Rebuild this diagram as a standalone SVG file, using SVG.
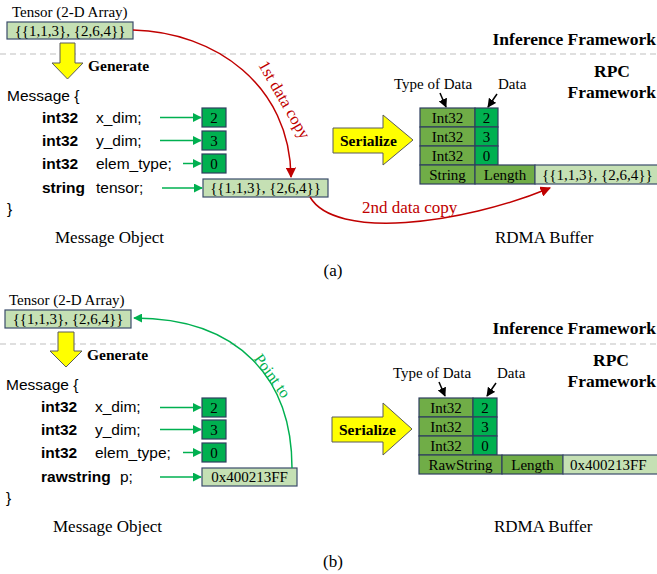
<svg xmlns="http://www.w3.org/2000/svg" width="657" height="574" viewBox="0 0 657 574">
<style>
.serif{font-family:"Liberation Serif","Times New Roman",serif;fill:#000}
.sans{font-family:"Liberation Sans",Arial,sans-serif;font-size:15.5px;fill:#000}
.b{font-weight:bold}
.lt{fill:#c5e0b4;stroke:#3b4c6b;stroke-width:1.2}
.md{fill:#70ad47;stroke:#2f3f5f;stroke-width:1.2}
.dk{fill:#00b050;stroke:#2f3f5f;stroke-width:1.2}
.yl{fill:#ffff00;stroke:#5a5a5a;stroke-width:1}
.dash{stroke:#c0c0c0;stroke-width:1.2;stroke-dasharray:6 4;fill:none}
.ga{stroke:#00b050;stroke-width:1.5;fill:none;marker-end:url(#mg)}
.ra{stroke:#c00000;stroke-width:1.5;fill:none;marker-end:url(#mr)}
.ka{stroke:#000;stroke-width:1.5;fill:none;marker-end:url(#mk)}
.c{text-anchor:middle}
</style>
<defs>
<marker id="mg" viewBox="0 0 10 10" refX="9" refY="5" markerWidth="6" markerHeight="6" orient="auto" markerUnits="strokeWidth"><path d="M0,0 L10,5 L0,10 z" fill="#00b050"/></marker>
<marker id="mr" viewBox="0 0 10 10" refX="9" refY="5" markerWidth="7" markerHeight="7" orient="auto" markerUnits="strokeWidth"><path d="M0,0 L10,5 L0,10 z" fill="#c00000"/></marker>
<marker id="mk" viewBox="0 0 10 10" refX="9" refY="5" markerWidth="6" markerHeight="6" orient="auto" markerUnits="strokeWidth"><path d="M0,0 L10,5 L0,10 z" fill="#000"/></marker>
</defs>

<!-- ============ (a) ============ -->
<g id="a-tensor">
<text class="serif" x="12" y="17" font-size="15">Tensor (2-D Array)</text>
<rect class="lt" x="7" y="22" width="126" height="17"/>
<text class="serif c" x="70" y="36" font-size="15">{{1,1,3}, {2,6,4}}</text>
</g>
<line class="dash" x1="0" y1="54" x2="657" y2="54"/>
<g id="a-generate">
<polygon class="yl" points="60,43 75,43 75,63 83,63 67.5,79 52,63 60,63"/>
<text class="serif b" x="88" y="71" font-size="15.5">Generate</text>
</g>
<g id="a-message">
<text class="sans" x="7" y="101">Message {</text>
<text class="sans b" x="42" y="123">int32</text><text class="sans" x="96" y="123">x_dim;</text>
<text class="sans b" x="42" y="146">int32</text><text class="sans" x="96" y="146">y_dim;</text>
<text class="sans b" x="42" y="169">int32</text><text class="sans" x="96" y="169">elem_type;</text>
<text class="sans b" x="42" y="193">string</text><text class="sans" x="96" y="193">tensor;</text>
<text class="sans" x="7" y="214">}</text>
<text class="serif" x="55" y="243" font-size="17">Message Object</text>
</g>
<g id="a-values">
<rect class="dk" x="202" y="108" width="24" height="19"/><text class="serif c" x="214" y="123" font-size="15">2</text>
<rect class="dk" x="202" y="131" width="24" height="19"/><text class="serif c" x="214" y="146" font-size="15">3</text>
<rect class="dk" x="202" y="154" width="24" height="19"/><text class="serif c" x="214" y="169" font-size="15">0</text>
<rect class="lt" x="203" y="179" width="125" height="18"/><text class="serif c" x="265.5" y="193" font-size="15">{{1,1,3}, {2,6,4}}</text>
</g>
<g id="a-labels">
<text class="serif b" x="656" y="45" font-size="17.5" text-anchor="end">Inference Framework</text>
<text class="serif b c" x="612" y="77" font-size="17.5">RPC</text>
<text class="serif b" x="656" y="98" font-size="17.5" text-anchor="end">Framework</text>
<text class="serif" x="394" y="89" font-size="15">Type of Data</text>
<text class="serif" x="498" y="89" font-size="15">Data</text>
<text class="serif" x="495" y="243" font-size="17">RDMA Buffer</text>
<text class="serif c" x="333" y="276" font-size="17">(a)</text>
</g>
<g id="a-serialize">
<polygon class="yl" points="333,128 383,128 383,115 413,140 383,165 383,153 333,153"/>
<text class="serif b" x="340" y="146" font-size="15.5">Serialize</text>
</g>
<g id="a-buffer">
<rect class="md" x="420" y="108" width="55" height="19"/><text class="serif c" x="447.5" y="123" font-size="15">Int32</text>
<rect class="dk" x="475" y="108" width="23" height="19"/><text class="serif c" x="486.5" y="123" font-size="15">2</text>
<rect class="md" x="420" y="127" width="55" height="19"/><text class="serif c" x="447.5" y="142" font-size="15">Int32</text>
<rect class="dk" x="475" y="127" width="23" height="19"/><text class="serif c" x="486.5" y="142" font-size="15">3</text>
<rect class="md" x="420" y="146" width="55" height="19"/><text class="serif c" x="447.5" y="161" font-size="15">Int32</text>
<rect class="dk" x="475" y="146" width="23" height="19"/><text class="serif c" x="486.5" y="161" font-size="15">0</text>
<rect class="md" x="420" y="165" width="55" height="19"/><text class="serif c" x="447.5" y="180" font-size="15">String</text>
<rect class="md" x="475" y="165" width="60" height="19"/><text class="serif c" x="505" y="180" font-size="15">Length</text>
<rect class="lt" x="535" y="165" width="124" height="19"/><text class="serif" x="542" y="180" font-size="15">{{1,1,3}, {2,6,4}}</text>
</g>
<g id="a-connectors">
<line class="ga" x1="160" y1="117.5" x2="201" y2="117.5"/>
<line class="ga" x1="160" y1="140.5" x2="201" y2="140.5"/>
<line class="ga" x1="183" y1="163.5" x2="201" y2="163.5"/>
<line class="ga" x1="162" y1="188" x2="202" y2="188"/>
<path class="ra" d="M133,30 C215,32 290,85 291,177"/>
<path class="ra" d="M310,197 C335,240 460,225 550,188"/>
<line class="ka" x1="440" y1="93" x2="446" y2="107"/>
<line class="ka" x1="497" y1="94" x2="488" y2="107"/>
<text class="serif" transform="translate(284,100) rotate(60)" text-anchor="middle" dy="5" font-size="16.5" style="fill:#c00000">1st data copy</text>
<text class="serif" x="362" y="213" font-size="17" style="fill:#c00000">2nd data copy</text>
</g>

<!-- ============ (b) ============ -->
<g id="b-tensor">
<text class="serif" x="9" y="305" font-size="15">Tensor (2-D Array)</text>
<rect class="lt" x="5" y="310" width="126" height="18"/>
<text class="serif c" x="68" y="324" font-size="15">{{1,1,3}, {2,6,4}}</text>
</g>
<line class="dash" x1="0" y1="344" x2="657" y2="344"/>
<g id="b-generate">
<polygon class="yl" points="58,332 74,332 74,351 82,351 66,367 50,351 58,351"/>
<text class="serif b" x="87" y="360" font-size="15.5">Generate</text>
</g>
<g id="b-message">
<text class="sans" x="6" y="390">Message {</text>
<text class="sans b" x="41" y="412">int32</text><text class="sans" x="95" y="412">x_dim;</text>
<text class="sans b" x="41" y="435">int32</text><text class="sans" x="95" y="435">y_dim;</text>
<text class="sans b" x="41" y="458">int32</text><text class="sans" x="95" y="458">elem_type;</text>
<text class="sans b" x="41" y="482">rawstring</text><text class="sans" x="120" y="482">p;</text>
<text class="sans" x="6" y="503">}</text>
<text class="serif" x="53" y="532" font-size="17">Message Object</text>
</g>
<g id="b-values">
<rect class="dk" x="202" y="398" width="24" height="19"/><text class="serif c" x="214" y="413" font-size="15">2</text>
<rect class="dk" x="202" y="420" width="24" height="19"/><text class="serif c" x="214" y="435" font-size="15">3</text>
<rect class="dk" x="202" y="443" width="24" height="19"/><text class="serif c" x="214" y="458" font-size="15">0</text>
<rect class="lt" x="202" y="468" width="95" height="18"/><text class="serif c" x="249.5" y="482" font-size="15">0x400213FF</text>
</g>
<g id="b-labels">
<text class="serif b" x="656" y="334" font-size="17.5" text-anchor="end">Inference Framework</text>
<text class="serif b c" x="611" y="366" font-size="17.5">RPC</text>
<text class="serif b" x="656" y="387" font-size="17.5" text-anchor="end">Framework</text>
<text class="serif" x="393" y="378" font-size="15">Type of Data</text>
<text class="serif" x="497" y="378" font-size="15">Data</text>
<text class="serif" x="494" y="532" font-size="17">RDMA Buffer</text>
<text class="serif c" x="333" y="567" font-size="17">(b)</text>
</g>
<g id="b-serialize">
<polygon class="yl" points="332,417 383,417 383,403 412,429 383,455 383,442 332,442"/>
<text class="serif b" x="339" y="435" font-size="15.5">Serialize</text>
</g>
<g id="b-buffer">
<rect class="md" x="419" y="398" width="54" height="19"/><text class="serif c" x="446" y="413" font-size="15">Int32</text>
<rect class="dk" x="473" y="398" width="24" height="19"/><text class="serif c" x="485" y="413" font-size="15">2</text>
<rect class="md" x="419" y="417" width="54" height="19"/><text class="serif c" x="446" y="432" font-size="15">Int32</text>
<rect class="dk" x="473" y="417" width="24" height="19"/><text class="serif c" x="485" y="432" font-size="15">3</text>
<rect class="md" x="419" y="436" width="54" height="19"/><text class="serif c" x="446" y="451" font-size="15">Int32</text>
<rect class="dk" x="473" y="436" width="24" height="19"/><text class="serif c" x="485" y="451" font-size="15">0</text>
<rect class="md" x="419" y="455" width="83" height="19"/><text class="serif c" x="460.5" y="470" font-size="15">RawString</text>
<rect class="md" x="502" y="455" width="61" height="19"/><text class="serif c" x="532.5" y="470" font-size="15">Length</text>
<rect class="lt" x="563" y="455" width="96" height="19"/><text class="serif" x="570" y="470" font-size="15">0x400213FF</text>
</g>
<g id="b-connectors">
<line class="ga" x1="160" y1="407.5" x2="201" y2="407.5"/>
<line class="ga" x1="160" y1="429.5" x2="201" y2="429.5"/>
<line class="ga" x1="183" y1="452.5" x2="201" y2="452.5"/>
<line class="ga" x1="160" y1="477" x2="201" y2="477"/>
<path class="ga" d="M292,468 C292,380 240,318 134,318"/>
<line class="ka" x1="439" y1="382" x2="445" y2="396"/>
<line class="ka" x1="496" y1="383" x2="487" y2="396"/>
<text class="serif" transform="translate(272,376) rotate(54)" text-anchor="middle" dy="5" font-size="16" style="fill:#00b050">Point to</text>
</g>
</svg>
